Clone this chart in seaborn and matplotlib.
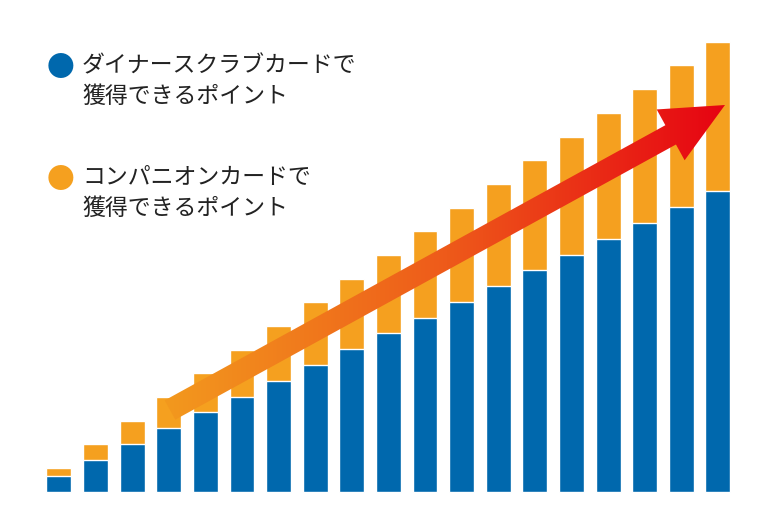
import numpy as np
import pandas as pd
import matplotlib.pyplot as plt
import seaborn as sns
from matplotlib.patches import FancyArrow
from matplotlib.colors import LinearSegmentedColormap

diners_points = [2, 4, 6, 8, 10, 11.9, 13.9, 15.9, 17.9, 19.9, 21.8, 23.8, 25.8, 27.8, 29.6, 31.6, 33.6, 35.6, 37.6]
companion_points = [1, 2, 2.9, 3.9, 4.9, 5.9, 6.8, 7.8, 8.7, 9.7, 10.8, 11.7, 12.7, 13.7, 14.8, 15.8, 16.8, 17.8, 18.7]
labels = ["ダイナースクラブカードで\n獲得できるポイント", "コンパニオンカードで\n獲得できるポイント"]

blue = "#0068AD"
orange = "#F5A01F"

df = pd.DataFrame({"idx": range(len(diners_points)), "diners": diners_points,
                   "total": np.add(diners_points, companion_points)})

sns.set_theme(style="white")
plt.rcParams['font.family'] = ['Noto Sans CJK JP', 'DejaVu Sans']

fig = plt.figure(figsize=(7.6, 5.2), dpi=100)
ax = fig.add_axes([0, 0, 1, 1])
sns.barplot(data=df, x="idx", y="total", color=orange, width=0.68, saturation=1, ax=ax)
sns.barplot(data=df, x="idx", y="diners", color=blue, width=0.68, saturation=1, ax=ax)
ax.set_xlim(-1.61, 19.15)
ax.set_ylim(-3.5, 61.5)
ax.axis("off")

# legend
for yy, col, lab in [(68, blue, labels[0]), (180, orange, labels[1])]:
    fig.text(60 / 760, 1 - yy / 520, "●", color=col, fontsize=20, ha="center", va="center")
    fig.text(82 / 760, 1 - (yy - 14) / 520, lab, fontsize=16.5, ha="left", va="top",
             linespacing=1.45, color="#222222")

# arrow overlay in pixel space
ov = fig.add_axes([0, 0, 1, 1])
ov.set_xlim(0, 760)
ov.set_ylim(520, 0)
ov.axis("off")
x0, y0, x1, y1 = 170, 410, 725, 105
arrow = FancyArrow(x0, y0, x1 - x0, y1 - y0, width=22, head_width=58, head_length=62,
                   length_includes_head=True, facecolor="none", edgecolor="none")
ov.add_patch(arrow)
cmap = LinearSegmentedColormap.from_list("g", ["#F39A1E", "#EE5A1A", "#E60012"])
grad = np.linspace(0, 1, 256).reshape(1, -1)
im = ov.imshow(grad, cmap=cmap, extent=[x0 - 10, x1 + 10, 520, 0], aspect="auto")
im.set_clip_path(arrow)
ov.set_xlim(0, 760)
ov.set_ylim(520, 0)

fig.savefig("out.png", dpi=100, facecolor="white")
